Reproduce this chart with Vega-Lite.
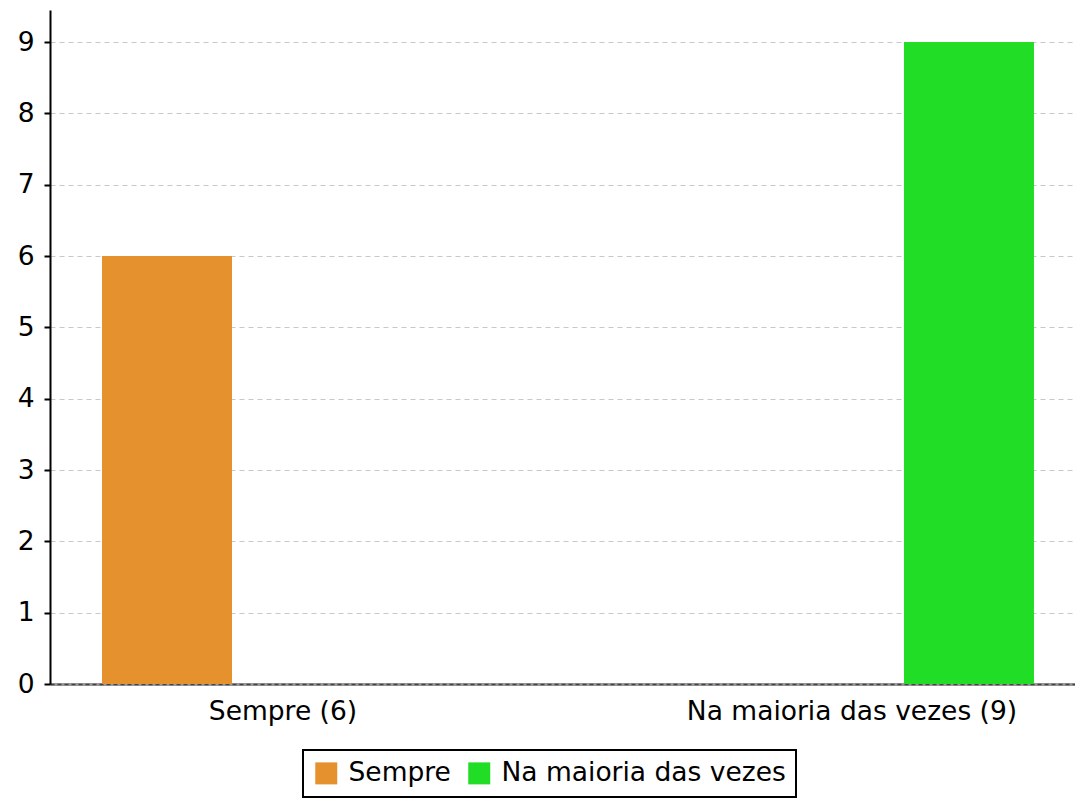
{
  "$schema": "https://vega.github.io/schema/vega-lite/v6.json",
  "autosize": {"type": "none"},
  "padding": {"left": 50, "top": 10, "right": 0, "bottom": 114},
  "width": 1025,
  "height": 674,
  "background": "white",
  "config": {
    "font": "DejaVu Sans",
    "view": {"stroke": null},
    "axis": {"labelFont": "DejaVu Sans", "labelColor": "#000", "labelFontSize": 26.5, "labelLimit": 0}
  },
  "data": {
    "values": [
      {"categoria": "Sempre (6)", "serie": "Sempre", "valor": 6},
      {"categoria": "Na maioria das vezes (9)", "serie": "Na maioria das vezes", "valor": 9}
    ]
  },
  "encoding": {
    "y": {
      "field": "valor",
      "type": "quantitative",
      "scale": {"domain": [0, 9.45], "nice": false, "zero": true},
      "axis": {
        "title": null,
        "values": [0, 1, 2, 3, 4, 5, 6, 7, 8, 9],
        "domainColor": "#000",
        "domainWidth": 2,
        "tickColor": "#000",
        "tickWidth": 2,
        "tickSize": 6,
        "labelPadding": 10,
        "gridColor": {"condition": {"test": "datum.value === 0", "value": "#999"}, "value": "#c8c8c8"},
        "gridDash": {"condition": {"test": "datum.value === 0", "value": []}, "value": [5, 4]},
        "gridWidth": {"condition": {"test": "datum.value === 0", "value": 3}, "value": 1}
      }
    }
  },
  "layer": [
    {
      "mark": {"type": "point", "opacity": 0},
      "encoding": {
        "x": {
          "field": "categoria",
          "type": "nominal",
          "sort": null,
          "scale": {"type": "band", "paddingInner": 0.4, "paddingOuter": 0.1007, "align": 0.5436},
          "axis": {
            "title": null,
            "labelAngle": 0,
            "ticks": false,
            "tickSize": 0,
            "labelPadding": 14,
            "domainColor": "#444",
            "domainDash": [4, 3],
            "domainWidth": 1.5,
            "grid": false
          }
        }
      }
    },
    {
      "mark": {"type": "bar"},
      "encoding": {
        "x": {
          "field": "serie",
          "type": "nominal",
          "sort": null,
          "scale": {"type": "band", "paddingInner": 0.8379, "paddingOuter": 0.058, "align": 0.559},
          "axis": null
        },
        "color": {
          "field": "serie",
          "type": "nominal",
          "sort": null,
          "scale": {"domain": ["Sempre", "Na maioria das vezes"], "range": ["#E5922E", "#22DD26"]},
          "legend": {
            "title": null,
            "orient": "none",
            "direction": "horizontal",
            "legendX": 253,
            "legendY": 740,
            "padding": 10,
            "strokeColor": "#000",
            "fillColor": "#fff",
            "symbolType": "square",
            "symbolSize": 484,
            "symbolStrokeWidth": 0,
            "symbolOpacity": 1,
            "labelFontSize": 26.5,
            "labelColor": "#000",
            "labelFont": "DejaVu Sans",
            "labelLimit": 0,
            "labelOffset": 9,
            "columnPadding": 15,
            "encode": {"legend": {"update": {"strokeWidth": {"value": 2}}}}
          }
        }
      }
    }
  ],
  "resolve": {"scale": {"x": "independent"}}
}
